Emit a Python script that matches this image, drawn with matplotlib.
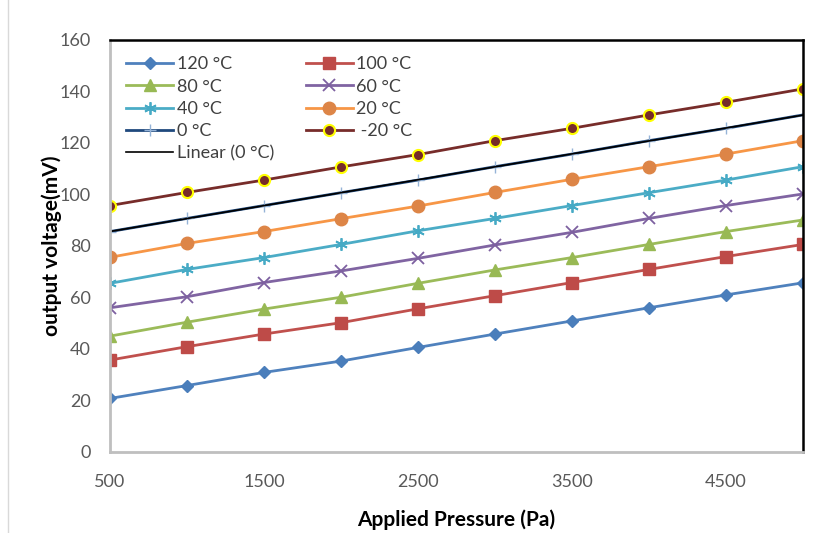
import numpy as np
import matplotlib.pyplot as plt

plt.rcParams['font.family'] = ['Lato', 'DejaVu Sans']

pressure = [500, 1000, 1500, 2000, 2500, 3000, 3500, 4000, 4500, 5000]

v120 = [20.8, 25.8, 30.9, 35.3, 40.6, 45.8, 50.9, 56.0, 61.0, 65.7]
v100 = [35.7, 40.9, 45.8, 50.2, 55.6, 60.7, 65.8, 70.9, 75.9, 80.6]
v80 = [45.0, 50.4, 55.5, 60.1, 65.5, 70.7, 75.5, 80.6, 85.6, 90.1]
v60 = [56.0, 60.3, 65.8, 70.3, 75.2, 80.4, 85.3, 90.7, 95.7, 100.2]
v40 = [65.5, 70.9, 75.5, 80.6, 85.9, 90.7, 95.7, 100.7, 105.6, 110.8]
v20 = [75.6, 81.0, 85.6, 90.6, 95.5, 100.8, 105.9, 110.8, 115.7, 120.9]
v0 = [85.6, 90.7, 95.7, 100.7, 105.6, 110.8, 115.7, 120.9, 125.7, 130.9]
vm20 = [95.7, 100.8, 105.6, 110.7, 115.5, 120.9, 125.7, 130.9, 135.8, 141.0]

fig = plt.figure(figsize=(8.27, 5.33), dpi=100)
ax = fig.add_axes([0.133, 0.152, 0.838, 0.773])

lw = 2.0
ax.plot(pressure, v120, color='#4F81BD', marker='D', ms=6, mfc='#4A7EBB', mec='#4A7EBB', lw=lw, label='120 °C')
ax.plot(pressure, v100, color='#C0504D', marker='s', ms=8, mfc='#BE4B48', mec='#BE4B48', lw=lw, label='100 °C')
ax.plot(pressure, v80, color='#9BBB59', marker='^', ms=9, mfc='#98B954', mec='#98B954', lw=lw, label='80 °C')
ax.plot(pressure, v60, color='#8064A2', marker='x', ms=8, mew=1.3, mec='#7D60A0', lw=lw, label='60 °C')
ax.plot(pressure, v40, color='#4BACC6', marker=(6, 2, 0), ms=9, mew=1.3, mec='#46AAC5', lw=lw, label='40 °C')
ax.plot(pressure, v20, color='#F79646', marker='o', ms=9, mfc='#DD8547', mec='#DD8547', lw=lw, label='20 °C')
ax.plot(pressure, v0, color='#1F497D', marker='+', ms=9, mew=1.0, mec='#95B3D7', lw=lw, label='0 °C')
ax.plot(pressure, vm20, color='#772C2A', marker='o', ms=8, mfc='#772C2A', mec='#FFFF00', mew=1.5, lw=lw, label=' -20 °C')

# linear trendline of the 0 °C series
k, b = np.polyfit(pressure, v0, 1)
xs = np.array([pressure[0], pressure[-1]])
ax.plot(xs, k * xs + b, color='black', lw=1.2, label='Linear (0 °C)')

ax.set_xlim(500, 5000)
ax.set_ylim(0, 160)
ax.set_xticks([500, 1500, 2500, 3500, 4500])
ax.set_yticks(range(0, 161, 20))
ax.tick_params(length=0, labelsize=13, labelcolor='#595959', pad=14)
ax.tick_params(axis='x', pad=16)

for s in ['left', 'bottom']:
    ax.spines[s].set_color('#BFBFBF')
    ax.spines[s].set_linewidth(2)
for s in ['top', 'right']:
    ax.spines[s].set_color('black')
    ax.spines[s].set_linewidth(1.8)

ax.set_xlabel('Applied Pressure (Pa)', fontsize=15, fontweight='bold', labelpad=14)
ax.set_ylabel('output voltage(mV)', fontsize=15, fontweight='bold', labelpad=-2)

handles, labels = ax.get_legend_handles_labels()
order = [0, 2, 4, 6, 8, 1, 3, 5, 7]
leg = ax.legend([handles[i] for i in order], [labels[i] for i in order], ncol=2,
                loc='upper left', bbox_to_anchor=(0.0, 1.0), frameon=False,
                fontsize=13, handlelength=2.6, handletextpad=0.2,
                columnspacing=1.75, labelspacing=0.35, borderaxespad=0.5)
for t in leg.get_texts():
    t.set_color('#404040')

fig.add_artist(plt.Line2D([0.01, 0.01], [0, 1], color='#D9D9D9', lw=1))

fig.savefig('out.png', dpi=100)
